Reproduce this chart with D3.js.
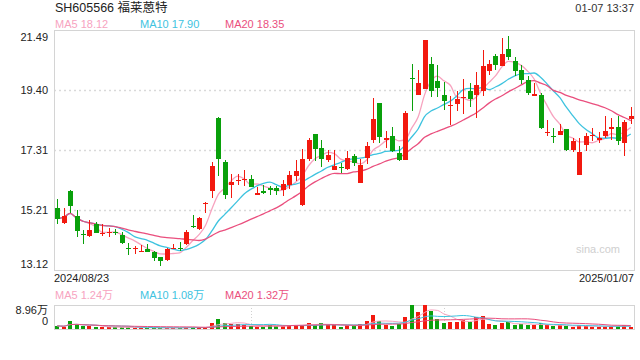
<!DOCTYPE html>
<html>
<head>
<meta charset="utf-8">
<script src="https://cdn.jsdelivr.net/npm/d3@7"></script>
<style>
  body { margin: 0; background: #fff; }
  text { font-family: "Liberation Sans", "Noto Sans CJK SC", sans-serif; }
</style>
</head>
<body>
<svg id="chart" width="640" height="360"></svg>
<script>
// daily bars 2024/08/23 .. 2025/01/07 (90 sessions)
const opens = [15.28,14.76,15.88,14.99,14.39,14.31,14.72,14.39,14.45,14.45,
  14.35,13.89,13.85,13.77,13.85,13.75,13.58,13.48,13.87,13.90,
  14.03,14.64,14.56,15.45,15.86,18.42,16.88,16.09,16.26,16.28,
  16.29,15.75,15.88,15.97,15.97,15.92,16.09,16.41,15.40,17.00,
  17.86,17.37,16.96,16.62,16.71,16.63,17.10,16.16,17.03,17.66,
  18.94,17.66,17.79,17.19,16.97,19.82,19.23,19.44,20.30,19.70,
  19.21,18.86,18.92,19.14,19.35,19.23,19.35,20.07,20.57,20.22,
  20.82,20.40,20.08,19.76,19.20,19.23,17.92,17.81,17.82,18.05,
  17.32,16.42,17.47,17.81,17.65,17.80,18.04,18.10,17.55,18.38];
const highs = [15.60,15.28,15.90,15.21,14.53,14.87,14.78,14.72,14.58,14.55,
  14.45,14.06,13.95,13.98,14.03,13.79,13.58,13.88,14.03,14.09,
  14.53,15.03,14.97,15.49,16.89,18.46,16.97,16.48,16.48,16.62,
  16.43,16.03,16.09,16.05,16.05,16.26,16.56,16.96,17.34,17.72,
  17.88,17.64,17.29,17.29,16.85,17.26,17.17,17.00,17.58,19.12,
  18.96,17.96,18.10,17.43,18.65,20.30,20.08,21.15,20.55,20.26,
  19.67,19.18,19.37,19.78,19.64,20.01,20.78,20.45,20.65,21.21,
  21.27,20.54,20.28,19.88,19.64,19.29,18.34,18.07,18.21,18.05,
  17.72,17.72,17.90,18.07,17.93,18.48,18.42,18.48,18.34,18.80];
const lows = [14.73,14.72,15.11,14.26,14.04,14.26,14.40,14.31,14.27,14.33,
  14.03,13.63,13.68,13.77,13.74,13.44,13.25,13.42,13.85,13.79,
  13.98,14.58,14.52,15.10,15.62,16.39,15.61,15.63,16.09,16.04,
  16.00,15.75,15.77,15.73,15.75,15.70,15.95,16.21,15.36,16.93,
  16.93,16.72,16.89,16.62,16.50,16.61,16.74,16.16,16.82,17.54,
  17.55,17.37,17.22,16.91,16.97,18.68,19.23,19.44,19.15,19.14,
  18.71,18.19,18.68,18.56,18.82,18.42,19.20,19.93,20.11,20.22,
  20.45,19.88,19.62,19.23,19.20,18.05,17.78,17.55,17.82,17.28,
  17.22,16.42,17.26,17.61,17.55,17.72,17.66,17.49,17.11,18.21];
const closes = [14.91,15.01,15.36,14.47,14.35,14.52,14.42,14.40,14.46,14.43,
  14.05,13.87,13.87,13.79,13.76,13.54,13.44,13.86,13.88,13.88,
  14.45,14.62,14.93,15.47,16.76,17.00,15.75,16.18,16.27,16.30,
  16.03,15.82,15.82,15.92,15.86,16.13,16.44,16.57,16.99,17.65,
  17.35,17.00,17.13,16.76,16.69,17.03,16.84,16.78,17.44,18.40,
  17.77,17.72,17.26,16.97,18.60,19.80,19.64,21.13,19.35,19.47,
  19.00,18.87,19.08,19.15,19.08,19.56,20.22,20.30,20.28,20.65,
  20.54,20.05,19.76,19.28,19.27,18.07,17.93,17.79,17.96,17.32,
  17.61,17.24,17.80,17.82,17.72,17.96,18.10,17.61,18.27,18.49];
// volume, in 万
const volumes = [1.19,0.90,2.87,1.97,1.02,1.02,0.72,0.60,0.60,0.60,
  0.60,0.60,0.42,0.42,0.42,0.42,0.42,0.42,0.42,0.42,
  0.78,0.90,0.60,0.60,2.21,3.76,2.21,1.79,1.79,1.61,
  1.02,0.72,0.72,1.61,1.02,1.02,1.61,1.61,1.61,2.09,
  1.31,2.33,1.37,1.37,0.78,1.37,1.37,1.73,3.10,5.37,
  3.16,1.61,1.19,1.91,4.66,8.96,6.45,8.78,6.75,3.76,
  2.39,2.57,2.69,3.40,2.75,4.36,4.96,1.97,1.61,2.21,
  2.51,1.61,1.73,1.61,1.31,2.09,1.31,1.13,1.31,1.02,
  0.90,1.31,1.02,0.90,0.90,0.90,1.02,1.19,1.31,0.90];
const priceTicks = [21.49, 19.40, 17.31, 15.21, 13.12];
const gridTicks = [19.40, 17.31, 15.21];
const volTicks = [8.96, 0];
const dateLabels = ['2024/08/23', '2025/01/07'];
const title = 'SH605566 福莱蒽特';
const stamp = '01-07 13:37';
const priceMA = [['MA5', '18.12', 5], ['MA10', '17.90', 10], ['MA20', '18.35', 20]];
const volMA = [['MA5', '1.24万', 5], ['MA10', '1.08万', 10], ['MA20', '1.32万', 20]];

const maColors = {MA5: '#f7a3bf', MA10: '#3ec3df', MA20: '#ea4f7e'};
const upColor = '#f2190f', downColor = '#09a00b';
const left = 54, right = 634;
const pTop = 30, pBottom = 270;
const vTop = 305, vBottom = 329;

const svg = d3.select('#chart');
const idx = d3.range(closes.length);

const x = d3.scaleBand().domain(idx).range([left, right]).paddingInner(0.2).paddingOuter(0.1);
const cx = i => x(i) + x.bandwidth() / 2;
const y = d3.scaleLinear().domain([13.12, 21.49]).range([pBottom, pTop]);
const yv = d3.scaleLinear().domain([0, 8.96]).range([vBottom, vTop]);

// moving average over what is available
const movingAvg = (arr, n) => arr.map((_, i) => d3.mean(arr.slice(Math.max(0, i - n + 1), i + 1)));

// header
svg.append('text').attr('x', 55).attr('y', 12).attr('font-size', 12.5).attr('fill', '#222').text(title);
svg.append('text').attr('x', right).attr('y', 12).attr('text-anchor', 'end').attr('font-size', 11).attr('fill', '#333').text(stamp);

const legend = (yy, items) => {
  items.forEach(([name, val], k) => {
    svg.append('text').attr('x', 55 + k * 85).attr('y', yy).attr('font-size', 11)
      .attr('fill', maColors[name]).text(`${name} ${val}`);
  });
};
legend(28, priceMA);
legend(299, volMA);

// price panel frame + grid
svg.append('g').selectAll('line').data(gridTicks).join('line')
  .attr('x1', left).attr('x2', right)
  .attr('y1', d => Math.round(y(d)) + 0.5).attr('y2', d => Math.round(y(d)) + 0.5)
  .attr('stroke', '#d9d9d9').attr('stroke-width', 1.5).attr('stroke-dasharray', '2,3');
svg.append('rect').attr('x', left + 0.5).attr('y', pTop + 0.5)
  .attr('width', right - left).attr('height', pBottom - pTop)
  .attr('fill', 'none').attr('stroke', '#d4d4d4');

const yAxis = svg.append('g').attr('transform', `translate(${left - 3},0)`)
  .call(d3.axisLeft(y).tickValues(priceTicks).tickSize(0).tickFormat(d3.format('.2f')));
yAxis.select('.domain').remove();
yAxis.selectAll('text').attr('font-size', 11).attr('fill', '#222')
  .attr('font-family', '"Liberation Sans", sans-serif')
  .attr('dy', d => d === 21.49 ? '0.95em' : d === 13.12 ? '-0.25em' : '0.32em');

svg.append('text').attr('x', 620).attr('y', 253).attr('text-anchor', 'end')
  .attr('font-size', 11).attr('fill', '#cfcfcf').text('sina.com');

// MA lines under candles
const line = d3.line().x((d, i) => cx(i)).y(d => y(d)).curve(d3.curveMonotoneX);
priceMA.forEach(([name, , n]) => {
  svg.append('path').datum(movingAvg(closes, n)).attr('d', line)
    .attr('fill', 'none').attr('stroke', maColors[name]).attr('stroke-width', 1.3);
});

// candles
const candles = svg.append('g').attr('shape-rendering', 'crispEdges');
const colorOf = i => closes[i] >= opens[i] ? upColor : downColor;
candles.selectAll('line').data(idx).join('line')
  .attr('x1', i => Math.round(cx(i)) + 0.5).attr('x2', i => Math.round(cx(i)) + 0.5)
  .attr('y1', i => y(highs[i])).attr('y2', i => y(lows[i]))
  .attr('stroke', colorOf);
candles.selectAll('rect').data(idx).join('rect')
  .attr('x', i => Math.round(cx(i)) - 2).attr('width', 5)
  .attr('y', i => y(Math.max(opens[i], closes[i])))
  .attr('height', i => Math.max(1, Math.abs(y(opens[i]) - y(closes[i]))))
  .attr('fill', colorOf);

// date labels
svg.append('text').attr('x', left).attr('y', 282).attr('font-size', 11).attr('fill', '#222').text(dateLabels[0]);
svg.append('text').attr('x', right).attr('y', 282).attr('text-anchor', 'end').attr('font-size', 11).attr('fill', '#222').text(dateLabels[1]);

// volume panel
svg.append('g').selectAll('line').data([30, 60]).join('line')
  .attr('x1', i => Math.round(cx(i)) + 0.5).attr('x2', i => Math.round(cx(i)) + 0.5)
  .attr('y1', vTop).attr('y2', vBottom)
  .attr('stroke', '#d0d0d0').attr('stroke-dasharray', '1,2');
svg.append('rect').attr('x', left + 0.5).attr('y', vTop + 0.5)
  .attr('width', right - left).attr('height', vBottom - vTop)
  .attr('fill', 'none').attr('stroke', '#d4d4d4');

const vAxis = svg.append('g').attr('transform', `translate(${left - 3},0)`)
  .call(d3.axisLeft(yv).tickValues(volTicks).tickSize(0).tickFormat(d => d ? d3.format('.2f')(d) + '万' : '0'));
vAxis.select('.domain').remove();
vAxis.selectAll('text').attr('font-size', 11).attr('fill', '#222')
  .attr('font-family', '"Liberation Sans", "Noto Sans CJK SC", sans-serif')
  .attr('dy', d => d ? '0.75em' : '-0.4em');

svg.append('g').attr('shape-rendering', 'crispEdges')
  .selectAll('rect').data(idx).join('rect')
  .attr('x', i => Math.round(cx(i)) - 2).attr('width', 4)
  .attr('y', i => yv(volumes[i])).attr('height', i => vBottom - yv(volumes[i]))
  .attr('fill', colorOf);

const vline = d3.line().x((d, i) => cx(i)).y(d => yv(d)).curve(d3.curveMonotoneX);
volMA.forEach(([name, , n]) => {
  svg.append('path').datum(movingAvg(volumes, n)).attr('d', vline)
    .attr('fill', 'none').attr('stroke', maColors[name]).attr('stroke-width', 1);
});
</script>
</body>
</html>
